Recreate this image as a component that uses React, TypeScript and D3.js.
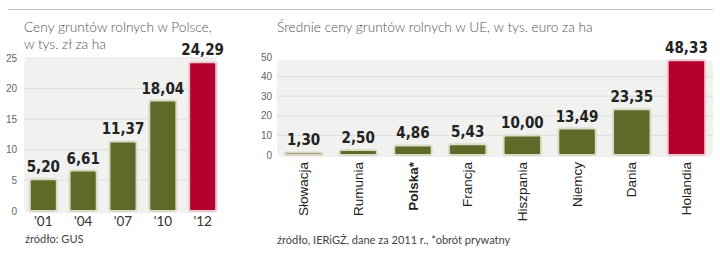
import React from "react";
import * as d3 from "d3";

const plYears = ["'01", "'04", "'07", "'10", "'12"];
const plValues = [5.2, 6.61, 11.37, 18.04, 24.29];
const plLabels = ["5,20", "6,61", "11,37", "18,04", "24,29"];
const plTicks = [0, 5, 10, 15, 20, 25];

const euCountries = ["Słowacja", "Rumunia", "Polska*", "Francja", "Hiszpania", "Niemcy", "Dania", "Holandia"];
const euValues = [1.3, 2.5, 4.86, 5.43, 10.0, 13.49, 23.35, 48.33];
const euLabels = ["1,30", "2,50", "4,86", "5,43", "10,00", "13,49", "23,35", "48,33"];
const euTicks = [0, 10, 20, 30, 40, 50];

const OLIVE = "#5e6a27";
const RED = "#b4002d";
const VALUE_FONT = "'DejaVu Sans Condensed', 'Liberation Sans Narrow', sans-serif";
const TEXT_FONT = "'Liberation Sans', Arial, sans-serif";
const TITLE_FONT = "Lato, 'Noto Sans', sans-serif";

export default function App() {
  const W = 720, H = 260;

  const xL = d3.scaleBand<string>().domain(plYears).range([25, 221]).paddingInner(0.32).paddingOuter(0.12);
  const yL = d3.scaleLinear().domain([0, 25]).range([211, 58]);

  const xR = d3.scaleBand<string>().domain(euCountries).range([277, 713]).paddingInner(0.315).paddingOuter(0.143);
  const yR = d3.scaleLinear().domain([0, 50]).range([155, 57]);

  return (
    <svg width={W} height={H} style={{ position: "absolute", left: 0, top: 0, background: "#fff" }}>
      {/* top rule */}
      <line x1={8} x2={713} y1={9.5} y2={9.5} stroke="#c4c4c4" strokeWidth={1} />

      {/* LEFT CHART */}
      <text x={24} y={32} fontFamily={TITLE_FONT} fontSize={13.7} fontWeight={300} fill="#555">Ceny gruntów rolnych w Polsce,</text>
      <text x={24} y={49} fontFamily={TITLE_FONT} fontSize={13.7} fontWeight={300} fill="#555">w tys. zł za ha</text>
      <rect x={24} y={yL(25)} width={194} height={yL(0) - yL(25) + 2} rx={6} fill="#f1f1f0" />
      {plTicks.slice(1).map((t) => (
        <line key={t} x1={24} x2={218} y1={yL(t)} y2={yL(t)} stroke="#e0e0e0" strokeWidth={1} />
      ))}
      {plTicks.map((t) => (
        <text key={t} x={17} y={yL(t)} dy="0.35em" textAnchor="end" fontFamily={TEXT_FONT} fontSize={10} fill="#666">{t}</text>
      ))}
      {plYears.map((c, i) => {
        const x = xL(c)!;
        const bw = xL.bandwidth();
        const last = i === plYears.length - 1;
        return (
          <g key={c}>
            <rect x={x} y={yL(plValues[i])} width={bw} height={yL(0) - yL(plValues[i])} rx={2}
              fill={last ? RED : OLIVE} stroke={last ? "#ecc9cf" : "#dcdac6"} strokeWidth={2} />
            <text x={x + bw / 2} y={yL(plValues[i]) - 7} textAnchor="middle" fontFamily={VALUE_FONT} fontWeight="bold" fontSize={15} fill="#222">{plLabels[i]}</text>
            <text x={x + bw / 2} y={226} textAnchor="middle" fontFamily={TITLE_FONT} fontSize={13.5} fill="#333">{c}</text>
          </g>
        );
      })}
      <text x={25} y={243} fontFamily={TITLE_FONT} fontSize={11} fill="#444">źródło: GUS</text>

      {/* RIGHT CHART */}
      <text x={277} y={32} fontFamily={TITLE_FONT} fontSize={13.7} fontWeight={300} fill="#555">Średnie ceny gruntów rolnych w UE, w tys. euro za ha</text>
      <rect x={277} y={60} width={436} height={yR(0) - 60 + 2} rx={6} fill="#f1f1f0" />
      {euTicks.slice(1, -1).map((t) => (
        <line key={t} x1={277} x2={713} y1={yR(t)} y2={yR(t)} stroke="#dedede" strokeWidth={1} />
      ))}
      {euTicks.map((t) => (
        <text key={t} x={272} y={yR(t)} dy="0.35em" textAnchor="end" fontFamily={TEXT_FONT} fontSize={10} fill="#666">{t}</text>
      ))}
      {euCountries.map((c, i) => {
        const x = xR(c)!;
        const bw = xR.bandwidth();
        const last = i === euCountries.length - 1;
        const cx = x + bw / 2;
        return (
          <g key={c}>
            <rect x={x} y={yR(euValues[i])} width={bw} height={yR(0) - yR(euValues[i])} rx={2}
              fill={last ? RED : OLIVE} stroke={last ? "#ecc9cf" : "#dcdac6"} strokeWidth={2} />
            <text x={cx} y={yR(euValues[i]) - 7} textAnchor="middle" fontFamily={VALUE_FONT} fontWeight="bold" fontSize={15} fill="#222">{euLabels[i]}</text>
            <text transform={`translate(${cx},162) rotate(-90)`} textAnchor="end" dy="0.35em"
              fontFamily={TEXT_FONT} fontSize={13.5} fontWeight={c === "Polska*" ? "bold" : "normal"} fill="#222">{c}</text>
          </g>
        );
      })}
      <text x={277} y={244} fontFamily={TITLE_FONT} fontSize={11} fill="#444">źródło, IERiGŻ, dane za 2011 r., *obrót prywatny</text>
    </svg>
  );
}
